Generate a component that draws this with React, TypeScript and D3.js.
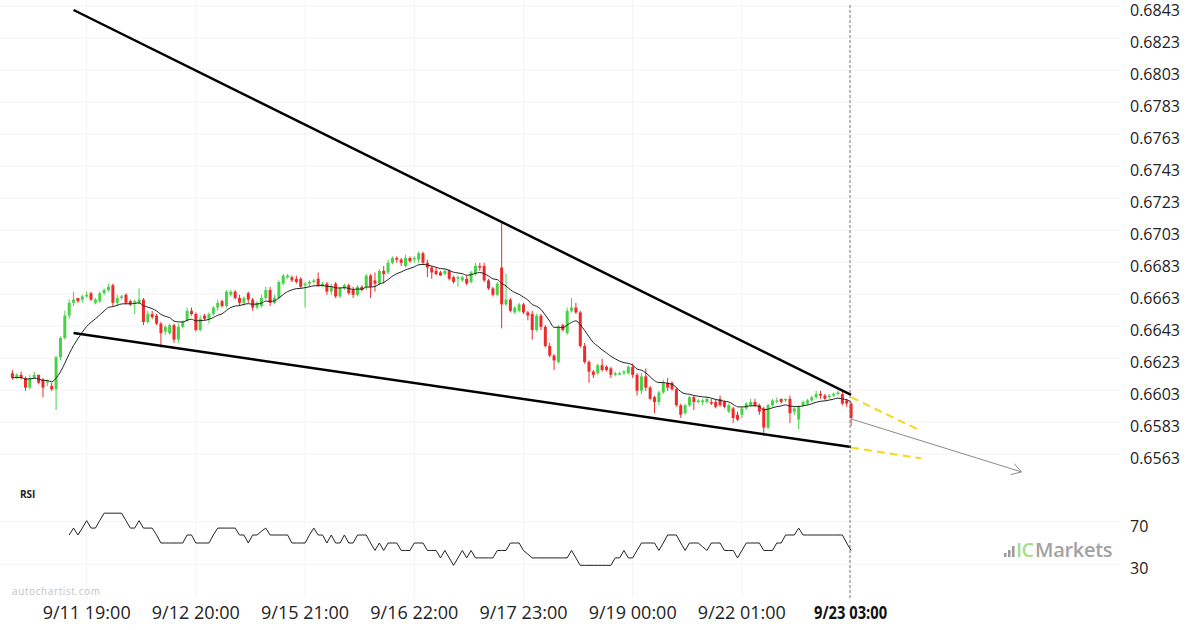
import React from 'react';
import * as d3 from 'd3';

const timeLabels = ["9/11 19:00", "9/12 20:00", "9/15 21:00", "9/16 22:00", "9/17 23:00", "9/19 00:00", "9/22 01:00"];
const timeLabelIndex = [17, 42, 67, 92, 117, 142, 167];
const lastLabel = "9/23 03:00";
const lastIndex = 192;
const priceTicks = [0.6843, 0.6823, 0.6803, 0.6783, 0.6763, 0.6743, 0.6723, 0.6703, 0.6683, 0.6663, 0.6643, 0.6623, 0.6603, 0.6583, 0.6563];
const rsiTicks = [70, 30];

const opens = [
0.6616,0.6613,0.6615,0.6613,0.6607,0.6613,0.6615,0.6612,0.6610,0.6608,
0.6606,0.6626,0.6638,0.6652,0.6660,0.6663,0.6662,0.6664,0.6666,0.6660,
0.6661,0.6666,0.6668,0.6671,0.6660,0.6663,0.6665,0.6661,0.6660,0.6660,
0.6662,0.6648,0.6653,0.6652,0.6647,0.6642,0.6641,0.6646,0.6637,0.6645,
0.6649,0.6655,0.6653,0.6643,0.6652,0.6650,0.6653,0.6657,0.6661,0.6658,
0.6665,0.6667,0.6663,0.6660,0.6666,0.6662,0.6657,0.6658,0.6663,0.6668,
0.6660,0.6663,0.6672,0.6676,0.6676,0.6675,0.6675,0.6671,0.6672,0.6673,
0.6675,0.6671,0.6672,0.6667,0.6672,0.6664,0.6669,0.6671,0.6668,0.6665,
0.6670,0.6670,0.6677,0.6674,0.6672,0.6680,0.6679,0.6685,0.6688,0.6687,
0.6683,0.6688,0.6687,0.6687,0.6691,0.6685,0.6682,0.6680,0.6679,0.6678,
0.6680,0.6676,0.6675,0.6674,0.6675,0.6673,0.6678,0.6683,0.6683,0.6674,
0.6669,0.6665,0.6682,0.6659,0.6662,0.6654,0.6655,0.6659,0.6654,0.6653,
0.6643,0.6652,0.6645,0.6633,0.6627,0.6623,0.6646,0.6641,0.6655,0.6657,
0.6654,0.6633,0.6623,0.6617,0.6616,0.6621,0.6620,0.6619,0.6615,0.6615,
0.6616,0.6616,0.6620,0.6615,0.6605,0.6614,0.6607,0.6601,0.6598,0.6604,
0.6610,0.6610,0.6606,0.6596,0.6591,0.6596,0.6601,0.6598,0.6598,0.6598,
0.6598,0.6598,0.6600,0.6598,0.6592,0.6594,0.6590,0.6590,0.6594,0.6596,
0.6598,0.6596,0.6594,0.6582,0.6596,0.6598,0.6600,0.6599,0.6600,0.6592,
0.6587,0.6596,0.6597,0.6599,0.6601,0.6603,0.6602,0.6601,0.6602,0.6603,
0.6603,0.6599,0.6597];

const highs = [
0.6618,0.6616,0.6617,0.6614,0.6615,0.6617,0.6615,0.6613,0.6612,0.6610,
0.6627,0.6639,0.6655,0.6662,0.6667,0.6663,0.6665,0.6667,0.6667,0.6663,
0.6667,0.6669,0.6672,0.6672,0.6665,0.6665,0.6666,0.6662,0.6662,0.6669,
0.6663,0.6655,0.6655,0.6653,0.6648,0.6646,0.6647,0.6647,0.6647,0.6649,
0.6657,0.6657,0.6654,0.6652,0.6653,0.6654,0.6658,0.6662,0.6662,0.6668,
0.6668,0.6668,0.6665,0.6664,0.6667,0.6663,0.6661,0.6665,0.6670,0.6670,
0.6665,0.6674,0.6678,0.6678,0.6677,0.6677,0.6676,0.6673,0.6674,0.6675,
0.6679,0.6673,0.6673,0.6672,0.6673,0.6670,0.6672,0.6672,0.6670,0.6671,
0.6671,0.6678,0.6678,0.6679,0.6681,0.6683,0.6687,0.6689,0.6689,0.6688,
0.6690,0.6689,0.6689,0.6692,0.6692,0.6687,0.6683,0.6682,0.6680,0.6681,
0.6681,0.6677,0.6677,0.6677,0.6677,0.6680,0.6685,0.6685,0.6685,0.6675,
0.6670,0.6673,0.6710,0.6678,0.6663,0.6658,0.6660,0.6660,0.6655,0.6655,
0.6653,0.6653,0.6646,0.6635,0.6628,0.6646,0.6647,0.6657,0.6663,0.6660,
0.6655,0.6635,0.6624,0.6618,0.6622,0.6625,0.6621,0.6620,0.6617,0.6617,
0.6618,0.6621,0.6622,0.6616,0.6616,0.6619,0.6608,0.6602,0.6605,0.6612,
0.6613,0.6611,0.6607,0.6597,0.6597,0.6602,0.6602,0.6600,0.6600,0.6601,
0.6600,0.6600,0.6602,0.6599,0.6597,0.6595,0.6592,0.6595,0.6598,0.6600,
0.6600,0.6597,0.6595,0.6597,0.6600,0.6601,0.6600,0.6600,0.6602,0.6595,
0.6596,0.6599,0.6600,0.6602,0.6605,0.6605,0.6603,0.6603,0.6604,0.6605,
0.6605,0.6600,0.6598];

const lows = [
0.6612,0.6612,0.6612,0.6605,0.6606,0.6613,0.6609,0.6601,0.6608,0.6605,
0.6593,0.6624,0.6637,0.6650,0.6658,0.6660,0.6660,0.6663,0.6661,0.6659,
0.6660,0.6665,0.6667,0.6658,0.6658,0.6662,0.6659,0.6658,0.6653,0.6659,
0.6646,0.6647,0.6650,0.6646,0.6632,0.6640,0.6640,0.6635,0.6635,0.6644,
0.6648,0.6652,0.6642,0.6642,0.6649,0.6647,0.6652,0.6655,0.6657,0.6657,
0.6664,0.6662,0.6658,0.6658,0.6660,0.6655,0.6656,0.6657,0.6662,0.6658,
0.6659,0.6662,0.6671,0.6675,0.6673,0.6672,0.6669,0.6657,0.6670,0.6672,
0.6670,0.6670,0.6665,0.6665,0.6663,0.6663,0.6668,0.6665,0.6663,0.6664,
0.6667,0.6668,0.6663,0.6667,0.6671,0.6672,0.6678,0.6684,0.6685,0.6683,
0.6682,0.6685,0.6685,0.6685,0.6684,0.6676,0.6675,0.6677,0.6677,0.6677,
0.6674,0.6672,0.6670,0.6673,0.6671,0.6672,0.6677,0.6680,0.6673,0.6668,
0.6664,0.6664,0.6644,0.6658,0.6654,0.6653,0.6654,0.6653,0.6649,0.6637,
0.6642,0.6643,0.6632,0.6626,0.6618,0.6622,0.6642,0.6640,0.6654,0.6653,
0.6632,0.6622,0.6610,0.6613,0.6615,0.6617,0.6617,0.6613,0.6614,0.6615,
0.6615,0.6615,0.6613,0.6602,0.6603,0.6605,0.6599,0.6591,0.6596,0.6603,
0.6605,0.6605,0.6595,0.6588,0.6590,0.6595,0.6593,0.6597,0.6596,0.6597,
0.6596,0.6594,0.6595,0.6594,0.6591,0.6585,0.6586,0.6588,0.6593,0.6595,
0.6595,0.6590,0.6577,0.6581,0.6595,0.6597,0.6597,0.6598,0.6585,0.6590,
0.6581,0.6595,0.6596,0.6598,0.6600,0.6600,0.6599,0.6600,0.6601,0.6602,
0.6596,0.6595,0.6583];

const closes = [
0.6613,0.6615,0.6613,0.6607,0.6613,0.6615,0.6610,0.6607,0.6611,0.6606,
0.6626,0.6638,0.6652,0.6660,0.6662,0.6661,0.6664,0.6665,0.6662,0.6662,
0.6666,0.6668,0.6670,0.6660,0.6663,0.6664,0.6660,0.6659,0.6661,0.6662,
0.6648,0.6653,0.6651,0.6647,0.6641,0.6645,0.6646,0.6637,0.6645,0.6648,
0.6655,0.6653,0.6643,0.6650,0.6650,0.6653,0.6657,0.6660,0.6658,0.6667,
0.6667,0.6663,0.6660,0.6663,0.6662,0.6657,0.6660,0.6663,0.6668,0.6660,
0.6663,0.6673,0.6677,0.6677,0.6674,0.6673,0.6670,0.6672,0.6673,0.6674,
0.6671,0.6672,0.6667,0.6670,0.6664,0.6669,0.6671,0.6666,0.6665,0.6670,
0.6668,0.6677,0.6670,0.6672,0.6680,0.6678,0.6685,0.6688,0.6687,0.6685,
0.6688,0.6686,0.6688,0.6691,0.6685,0.6682,0.6679,0.6678,0.6677,0.6680,
0.6675,0.6673,0.6676,0.6676,0.6672,0.6679,0.6683,0.6682,0.6674,0.6669,
0.6665,0.6672,0.6659,0.6662,0.6655,0.6657,0.6659,0.6654,0.6652,0.6643,
0.6652,0.6645,0.6633,0.6627,0.6624,0.6645,0.6643,0.6655,0.6657,0.6654,
0.6633,0.6623,0.6617,0.6615,0.6621,0.6618,0.6618,0.6615,0.6616,0.6616,
0.6617,0.6620,0.6615,0.6605,0.6614,0.6607,0.6600,0.6598,0.6604,0.6610,
0.6607,0.6606,0.6596,0.6590,0.6596,0.6601,0.6598,0.6599,0.6599,0.6600,
0.6597,0.6595,0.6596,0.6595,0.6596,0.6588,0.6587,0.6594,0.6597,0.6598,
0.6596,0.6592,0.6582,0.6596,0.6599,0.6599,0.6598,0.6600,0.6591,0.6594,
0.6595,0.6598,0.6599,0.6601,0.6603,0.6602,0.6600,0.6602,0.6603,0.6604,
0.6597,0.6597,0.6588];

const rsiStart = 13;
const rsiValues = [
57.5,64,57.5,64,71,64,64,71,78,78,
78,78,78,71,64,64,71,64,64,64,
57.5,50,50,50,50,50,50,57.5,57.5,50,
50,50,50,57.5,64,64,64,64,64,57.5,
57.5,50,57.5,57.5,61,64,57.5,57.5,57.5,57.5,
57.5,50,50,50,50,57.5,64,57.5,57.5,50,
57.5,50,50,57.5,50,50,57.5,57.5,57.5,50,
43,50,43,50,50,50,43,43,43,50,
50,50,43,43,43,36,43,36,29,36,
43,36,43,36,36,36,36,36,43,43,
43,50,50,50,43,39.5,36,36,36,36,
36,36,36,36,36,43,36,29,29,29,
29,29,29,29,29,36,36,43,36,36,
43,50,50,50,50,43,50,57.5,57.5,57.5,
50,43,50,50,50,46.5,43,50,50,50,
43,43,43,36,43,50,50,50,50,43,
43,43,50,50,57.5,57.5,57.5,64,57.5,57.5,
57.5,57.5,57.5,57.5,57.5,57.5,57.5,57.5,50,43];

const upperTrend = [{ i: 14, p: 0.6843 }, { i: 192, p: 0.66024 }];
const lowerTrend = [{ i: 14, p: 0.66411 }, { i: 192, p: 0.65699 }];
const upperProjection = [{ i: 192, p: 0.66010 }, { i: 208, p: 0.65799 }];
const lowerProjection = [{ i: 192, p: 0.65696 }, { i: 208, p: 0.65628 }];
const forecastArrow = [{ i: 192, p: 0.65874 }, { i: 231, p: 0.65543 }];

const emaPeriod = 12;

export default function App() {
  const W = 1200, H = 630;
  const x = d3.scaleLinear().domain([0, 192]).range([12.4, 851.1]);
  const y = d3.scaleLinear().domain([0.6563, 0.6843]).range([458, 10]);
  const ry = d3.scaleLinear().domain([30, 70]).range([564.3, 521.7]);

  const alpha = 2 / (emaPeriod + 1);
  const ema: number[] = [];
  closes.forEach((c, i) => {
    ema.push(i === 0 ? c : ema[i - 1] + alpha * (c - ema[i - 1]));
  });
  const emaLine = d3.line<number>().x((_, i) => x(i)).y((d) => y(d)).curve(d3.curveMonotoneX)(ema) || '';
  const rsiLine = d3.line<number>().x((_, i) => x(i + rsiStart)).y((d) => ry(d))(rsiValues) || '';
  const tl = d3.line<{ i: number; p: number }>().x((d) => x(d.i)).y((d) => y(d.p));

  const green = '#46d446';
  const red = '#ee2b2b';
  const font = "'Open Sans', 'Noto Sans', sans-serif";

  const a0 = forecastArrow[0], a1 = forecastArrow[1];
  const tx = x(a1.i), ty = y(a1.p);
  const ang = Math.atan2(ty - y(a0.p), tx - x(a0.i));
  const hl = 11, ha = 0.55;
  const head = `M${tx - hl * Math.cos(ang - ha)},${ty - hl * Math.sin(ang - ha)}L${tx},${ty}L${tx - hl * Math.cos(ang + ha)},${ty - hl * Math.sin(ang + ha)}`;

  return (
    <svg width={W} height={H} style={{ position: 'absolute', left: 0, top: 0, background: '#fff' }}>
      <rect width={W} height={H} fill="#fff" />
      {priceTicks.map((p) => (
        <line key={'hg' + p} x1={0} x2={1120} y1={y(p) - 4} y2={y(p) - 4} stroke="#f3f3f3" strokeWidth={1} />
      ))}
      {rsiTicks.map((r) => (
        <line key={'rg' + r} x1={0} x2={1120} y1={ry(r)} y2={ry(r)} stroke="#f3f3f3" strokeWidth={1} />
      ))}
      {timeLabelIndex.map((i) => (
        <line key={'vg' + i} x1={x(i)} x2={x(i)} y1={0} y2={598} stroke="#f3f3f3" strokeWidth={1} />
      ))}

      {closes.map((c, i) => {
        const o = opens[i];
        const col = c >= o ? green : red;
        const cx = x(i);
        const top = y(Math.max(o, c));
        const bot = y(Math.min(o, c));
        return (
          <g key={'c' + i}>
            <line x1={cx} x2={cx} y1={y(highs[i])} y2={y(lows[i])} stroke={col} strokeWidth={1} />
            <rect x={cx - 1.5} y={top} width={3} height={Math.max(1, bot - top)} fill={col} />
          </g>
        );
      })}

      <path d={emaLine} fill="none" stroke="#222" strokeWidth={1} />

      <path d={tl(upperTrend) || ''} stroke="#000" strokeWidth={2.5} fill="none" />
      <path d={tl(lowerTrend) || ''} stroke="#000" strokeWidth={2.5} fill="none" />
      <path d={tl(upperProjection) || ''} stroke="#f7d71c" strokeWidth={2} strokeDasharray="8,5" fill="none" />
      <path d={tl(lowerProjection) || ''} stroke="#f7d71c" strokeWidth={2} strokeDasharray="8,5" fill="none" />
      <path d={tl(forecastArrow) || ''} stroke="#8a8a8a" strokeWidth={1} fill="none" />
      <path d={head} stroke="#8a8a8a" strokeWidth={1} fill="none" />

      <line x1={850} x2={850} y1={5} y2={598} stroke="#777" strokeWidth={1} strokeDasharray="3,2" />

      {priceTicks.map((p) => (
        <text key={'pl' + p} x={1130} y={y(p) + 5.7} fontFamily={font} fontSize={16} fill="#222">{p.toFixed(4)}</text>
      ))}

      <text x={20} y={498} fontFamily={font} fontSize={10} fontWeight={700} fill="#222">RSI</text>
      <path d={rsiLine} fill="none" stroke="#222" strokeWidth={1} />
      {rsiTicks.map((r) => (
        <text key={'rl' + r} x={1130} y={ry(r) + 10} fontFamily={font} fontSize={16} fill="#222">{r}</text>
      ))}

      {timeLabels.map((t, k) => (
        <text key={'tl' + t} x={x(timeLabelIndex[k])} y={618.5} textAnchor="middle" fontFamily={font} fontSize={18} fill="#222">{t}</text>
      ))}
      <text x={x(lastIndex) - 0.5} y={618.5} textAnchor="middle" fontFamily={font} fontSize={18} fontWeight={700} fill="#111" textLength={73} lengthAdjust="spacingAndGlyphs">{lastLabel}</text>

      <text x={12} y={595} fontFamily={font} fontSize={10} fill="#c4c4c4" letterSpacing={0.6}>autochartist.com</text>

      <g>
        <rect x={1004} y={553} width={2.5} height={4} fill="#9a9a9a" />
        <rect x={1008} y={550} width={2.5} height={7} fill="#9a9a9a" />
        <rect x={1012} y={546} width={2.5} height={11} fill="#9a9a9a" />
        <text x={1016} y={557} fontFamily={font} fontSize={20} fontWeight={600} fill="#a3de8c" letterSpacing={-0.5}>IC</text>
        <text x={1035} y={557} fontFamily={font} fontSize={20} fontWeight={600} fill="#a2a2a2" letterSpacing={-0.3}>Markets</text>
      </g>
    </svg>
  );
}
